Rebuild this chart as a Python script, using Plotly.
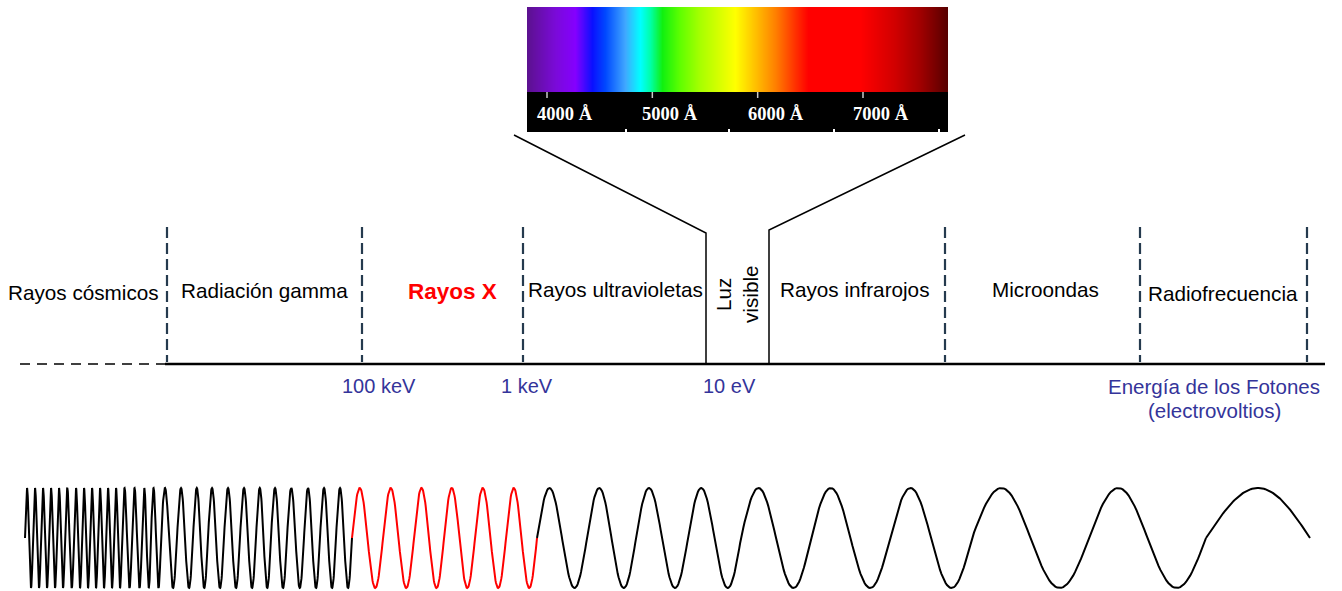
import numpy as np
import plotly.graph_objects as go

W, H = 1342, 591

# ---------------- data ----------------
# Spectrum bands (labels) and their label centres on the diagram
band_names = ["Rayos cósmicos", "Radiación gamma", "Rayos X", "Rayos ultravioletas",
              "Luz<br>visible", "Rayos infrarojos", "Microondas", "Radiofrecuencia"]
band_x = [83, 264, 452, 615, 737, 854, 1045, 1223]
band_y = [292, 290, 291, 289, 294, 289, 289, 293]

# Band boundaries (dashed separators) along the energy axis
boundaries = [167, 362, 523, 945, 1140, 1307]

# Energy tick labels
energy_labels = ["100 keV", "1 keV", "10 eV"]
energy_x = [379, 527, 729]

# Visible window edges on the energy axis
visible_edges = [706, 769]

# Visible spectrum (wavelength in Angstrom) colour samples
spec_wl = [3790, 4076, 4266, 4427, 4551, 4741, 4883, 4978, 5092, 5263,
           5453, 5785, 5975, 6165, 6355, 6479, 6972, 7305, 7542, 7830]
spec_col = ["#5a128a", "#7a0ad8", "#8400ff", "#0a10ff", "#0048ff", "#40a8ff",
            "#00ffff", "#00ffa8", "#10f010", "#60ff00", "#a8ff00", "#ffff00",
            "#ffc000", "#ff8000", "#ff3000", "#ff0000", "#ff0000", "#d00000",
            "#a00000", "#500000"]
spec_ticks = [4000, 5000, 6000, 7000]
spec_tick_labels = ["4000 Å", "5000 Å", "6000 Å", "7000 Å"]

# Wave: upward zero crossings of each segment
wave_left = [25, 33, 41, 49, 57, 65, 74, 82, 90, 98, 106, 114, 122, 132, 142,
             151, 161, 177, 193, 208, 224, 240, 256, 271, 287, 304, 320, 336, 352]
wave_xray = [352, 383, 414, 444, 475, 506, 537]
wave_right = [537, 587, 636, 688, 741, 811, 890, 972, 1089, 1206]
wave_tail = [1206, 1310]  # final half cycle

# ---------------- layout geometry ----------------
AXIS_Y = 364
WAVE_C, WAVE_A = 538, 50
SPEC_L, SPEC_R = 527, 948
SPEC_TOP, SPEC_MID, SPEC_BOT = 7, 92, 132
BAR_NOTCHES = [626, 729, 834, 939]
BLUE = "#34349a"
SANS = "Arial, Liberation Sans, sans-serif"
SERIF = "Times New Roman, Liberation Serif, serif"

fig = go.Figure()


def cycles(cross):
    xs, ys = [], []
    for a, b in zip(cross[:-1], cross[1:]):
        t = np.linspace(0, 1, 60)
        xs.extend(a + (b - a) * t)
        ys.extend(WAVE_C - WAVE_A * np.sin(2 * np.pi * t))
    return xs, ys


for cross, col in [(wave_left, "black"), (wave_xray, "red"), (wave_right, "black")]:
    xs, ys = cycles(cross)
    fig.add_trace(go.Scatter(x=xs, y=ys, mode="lines",
                             line=dict(color=col, width=2), hoverinfo="skip"))
# tail half cycle
a, b = wave_tail
t = np.linspace(0, 1, 80)
fig.add_trace(go.Scatter(x=a + (b - a) * t, y=WAVE_C - WAVE_A * np.sin(np.pi * t),
                         mode="lines", line=dict(color="black", width=2), hoverinfo="skip"))

# visible spectrum heatmap on its own wavelength axis
x2_dom = [SPEC_L / W, SPEC_R / W]
fig.add_trace(go.Heatmap(
    x=spec_wl, y=[SPEC_TOP, (SPEC_TOP + SPEC_MID) / 2, SPEC_MID],
    z=[list(range(len(spec_wl)))] * 2,
    colorscale=[[i / (len(spec_col) - 1), c] for i, c in enumerate(spec_col)],
    zsmooth="best", showscale=False, xaxis="x2", yaxis="y", hoverinfo="skip"))

shapes = []
# black band under the spectrum
shapes.append(dict(type="rect", xref="x", yref="y", x0=SPEC_L, x1=SPEC_R,
                   y0=SPEC_MID, y1=SPEC_BOT, fillcolor="black", line=dict(width=0),
                   layer="above"))
for nx in BAR_NOTCHES:
    shapes.append(dict(type="line", xref="x", yref="y", x0=nx, x1=nx,
                       y0=SPEC_BOT - 3, y1=SPEC_BOT, line=dict(color="white", width=2)))
for wl in spec_ticks:
    shapes.append(dict(type="line", xref="x2", yref="y", x0=wl, x1=wl,
                       y0=SPEC_MID, y1=SPEC_MID + 6, line=dict(color="#c8c8c8", width=1.5)))

# main energy axis
shapes.append(dict(type="line", xref="x", yref="y", x0=165, x1=1325, y0=AXIS_Y, y1=AXIS_Y,
                   line=dict(color="black", width=2.6)))
shapes.append(dict(type="line", xref="x", yref="y", x0=20, x1=165, y0=AXIS_Y, y1=AXIS_Y,
                   line=dict(color="black", width=1.3, dash="10px,7px")))
# dashed band separators
for bx in boundaries:
    shapes.append(dict(type="line", xref="x", yref="y", x0=bx, x1=bx, y0=227, y1=AXIS_Y - 2,
                       line=dict(color="#253a4e", width=2.2, dash="11px,5px")))
# visible-light funnel
shapes.append(dict(type="path", xref="x", yref="y",
                   path=f"M514,135 L{visible_edges[0]},233 L{visible_edges[0]},{AXIS_Y}",
                   line=dict(color="black", width=1.5)))
shapes.append(dict(type="path", xref="x", yref="y",
                   path=f"M965,135 L{visible_edges[1]},230 L{visible_edges[1]},{AXIS_Y}",
                   line=dict(color="black", width=1.5)))

ann = []
for name, x, y in zip(band_names, band_x, band_y):
    if name == "Rayos X":
        f = dict(family=SANS, size=22.5, color="#ff0000")
        txt = "<b>Rayos X</b>"
    else:
        f = dict(family=SANS, size=20.7, color="black")
        txt = name
    ann.append(dict(x=x, y=y, xref="x", yref="y", text=txt, showarrow=False, font=f,
                    textangle=-90 if "visible" in name else 0,
                    xanchor="center", yanchor="middle"))
for lab, x in zip(energy_labels, energy_x):
    ann.append(dict(x=x, y=386, xref="x", yref="y", text=lab, showarrow=False,
                    font=dict(family=SANS, size=20, color=BLUE),
                    xanchor="center", yanchor="middle"))
ann.append(dict(x=1214, y=386, xref="x", yref="y", text="Energía de los Fotones",
                showarrow=False, font=dict(family=SANS, size=20.5, color=BLUE),
                xanchor="center", yanchor="middle"))
ann.append(dict(x=1214, y=410, xref="x", yref="y", text="(electrovoltios)",
                showarrow=False, font=dict(family=SANS, size=20.5, color=BLUE),
                xanchor="center", yanchor="middle"))
for wl, lab in zip(spec_ticks, spec_tick_labels):
    ann.append(dict(x=wl, y=114, xref="x2", yref="y", text=f"<b>{lab}</b>", showarrow=False,
                    font=dict(family=SERIF, size=18.5, color="white"),
                    xanchor="left", yanchor="middle", xshift=-12))

# wavelength range matching spectrum box
px_per_A = (863 - 547) / 3000.0
wl_left = 4000 - (547 - SPEC_L) / px_per_A
wl_right = 4000 + (SPEC_R - 547) / px_per_A

fig.update_layout(
    width=W, height=H, margin=dict(l=0, r=0, t=0, b=0),
    paper_bgcolor="white", plot_bgcolor="rgba(0,0,0,0)", showlegend=False,
    xaxis=dict(range=[0, W], visible=False, fixedrange=True),
    xaxis2=dict(range=[wl_left, wl_right], domain=x2_dom, visible=False,
                anchor="y", fixedrange=True),
    yaxis=dict(range=[H, 0], visible=False, fixedrange=True),
    shapes=shapes, annotations=ann,
)
fig.write_html("out.html", config={"displayModeBar": False})

# remove the default page margin so the figure fills the window exactly
with open("out.html", "r", encoding="utf-8") as fh:
    html = fh.read()
html = html.replace("<head>", "<head><style>html,body{margin:0;padding:0;overflow:hidden;}</style>", 1)
with open("out.html", "w", encoding="utf-8") as fh:
    fh.write(html)
